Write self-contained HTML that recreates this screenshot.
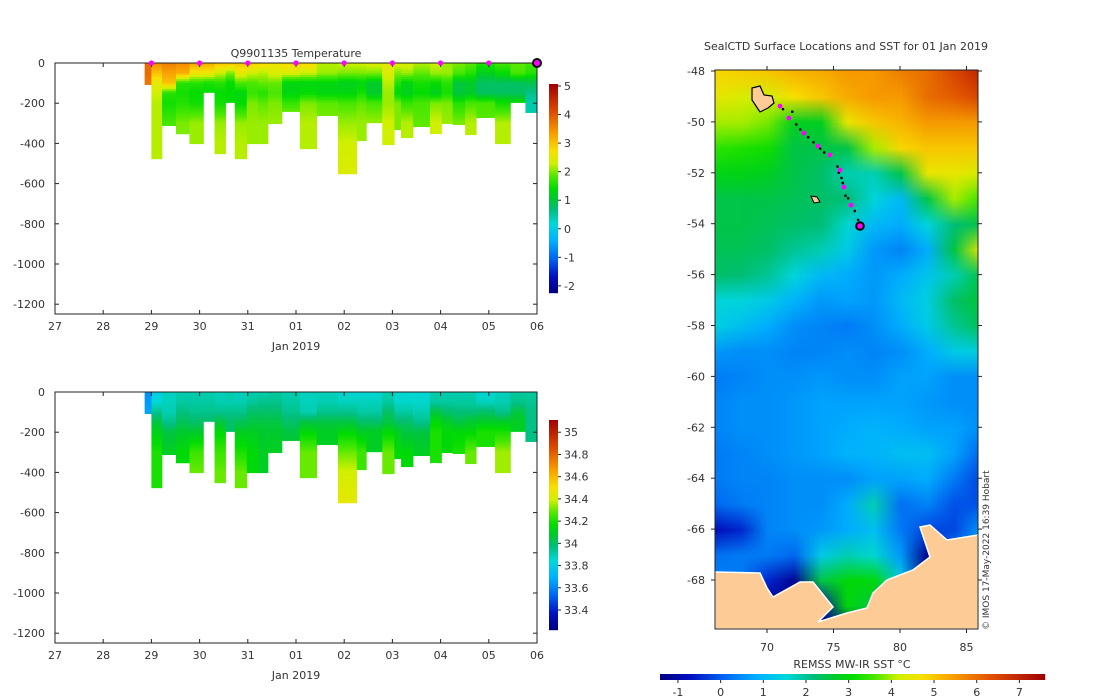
<!DOCTYPE html>
<html><head><meta charset="utf-8"><style>
body{margin:0;background:#fff;}
svg{display:block;font-family:"DejaVu Sans","Liberation Sans",sans-serif;}
text{fill:#333;font-size:11px;}
</style></head><body>
<div style="position:relative;width:1100px;height:700px;">
<canvas id="sst" width="1100" height="700" style="position:absolute;left:0;top:0"></canvas>
<svg id="fig" width="1100" height="700" style="position:absolute;left:0;top:0"></svg>
</div>
<script>
// ---------- data ----------
const profileStart=[1.86,2.00,2.22,2.51,2.79,3.08,3.31,3.54,3.73,3.98,4.21,4.42,4.71,5.08,5.43,5.87,6.26,6.46,6.79,7.04,7.18,7.43,7.78,8.02,8.25,8.51,8.74,9.13,9.45,9.76];
const profileMaxDepth=[108,477,312,353,402,147,452,197,477,402,402,302,242,427,262,552,387,298,407,332,372,317,352,302,307,357,272,402,197,247];
const levels=[0,50,100,150,200,300,400,550];
const tempProfiles=[
[3.8,3.8,3.7,3.7,3.7,3.7,3.7,3.7],[3.5,3.0,2.5,2.3,2.2,2.2,2.2,2.2],[3.6,3.3,3.0,1.6,1.5,1.8,1.8,1.8],
[3.5,3.2,1.6,1.5,1.6,2.0,2,2],[3.3,2.6,1.6,1.4,1.5,2.1,2.1,2.1],[3.2,2.6,1.5,1.4,1.4,1.4,1.4,1.4],
[3.0,2.3,1.6,1.4,1.5,2.1,2.2,2.2],[3.0,2.0,1.4,1.4,1.4,1.4,1.4,1.4],[3.0,2.5,1.8,1.3,1.4,2.1,2.2,2.2],
[2.9,2.3,1.8,1.7,2.0,2.1,2.1,2.1],[2.8,2.2,1.9,1.6,1.9,2.1,2.1,2.1],[2.6,2.4,1.9,1.8,2.0,2.1,2.1,2.1],
[2.8,2.4,1.3,1.3,1.7,2.2,2.2,2.2],[2.8,2.3,1.3,1.4,2.0,2.2,2.2,2.2],[2.2,2.1,1.3,1.3,1.9,2.0,2.0,2.0],
[2.3,2.0,1.2,1.3,1.8,2.1,2.3,2.4],[2.3,2.0,1.3,1.5,1.9,2.1,2.1,2.1],[2.4,2.0,1.1,1.1,1.8,2.1,2.1,2.1],
[2.5,2.4,2.2,2.1,2.1,2.3,2.3,2.3],[2.4,2.0,1.6,1.3,2.0,2.0,2.0,2.0],[2.4,2.1,1.3,1.2,1.7,2.2,2.2,2.2],
[2.2,1.9,1.5,1.4,1.8,1.9,1.9,1.9],[2.3,2.1,1.4,1.2,2.0,2.3,2.3,2.3],[2.1,2.1,1.6,1.5,2.0,2.1,2.1,2.1],
[2.0,1.8,1.0,1.0,1.6,2.0,2.0,2.0],[1.9,1.6,1.1,1.1,1.8,2.2,2.2,2.2],[1.6,1.2,0.8,0.8,1.8,1.9,1.9,1.9],
[1.8,1.4,0.8,0.8,1.5,2.2,2.2,2.2],[1.9,1.8,0.8,0.8,1.4,1.4,1.4,1.4],[1.8,1.6,0.9,0.6,0.4,0.4,0.4,0.4]];
const saltProfiles=[
[33.62,33.64,33.66,33.7,33.7,33.7,33.7,33.7],[33.8,33.85,33.95,34.05,34.12,34.2,34.2,34.2],[33.88,33.88,33.9,33.95,34.05,34.1,34.1,34.1],
[33.9,33.92,33.97,34.02,34.08,34.15,34.15,34.15],[33.9,33.92,33.95,34.0,34.08,34.25,34.3,34.3],[33.9,33.92,33.95,34.0,34.0,34.0,34.0,34.0],
[33.88,33.9,33.95,34.05,34.15,34.25,34.3,34.3],[33.9,33.9,33.95,34.0,34.0,34.0,34.0,34.0],[33.88,33.9,33.95,34.02,34.1,34.2,34.3,34.3],
[33.9,33.93,34.0,34.05,34.1,34.15,34.15,34.15],[33.9,33.95,34.0,34.05,34.08,34.1,34.1,34.1],[33.92,33.95,34.0,34.05,34.08,34.1,34.1,34.1],
[33.9,33.92,33.95,34.0,34.05,34.1,34.1,34.1],[33.88,33.88,33.9,34.05,34.15,34.3,34.3,34.3],[33.88,33.9,33.95,34.05,34.1,34.1,34.1,34.1],
[33.85,33.88,33.95,34.05,34.15,34.3,34.4,34.45],[33.85,33.88,33.92,34.0,34.1,34.25,34.25,34.25],[33.85,33.88,33.92,34.0,34.1,34.1,34.1,34.1],
[33.9,33.92,34.0,34.05,34.15,34.3,34.3,34.3],[33.85,33.86,33.92,34.0,34.1,34.15,34.15,34.15],[33.85,33.86,33.92,34.0,34.05,34.15,34.15,34.15],
[33.85,33.86,33.9,33.95,34.05,34.1,34.1,34.1],[33.9,33.92,34.05,34.15,34.2,34.2,34.2,34.2],[33.9,33.92,34.0,34.1,34.15,34.15,34.15,34.15],
[33.9,33.92,33.98,34.05,34.15,34.2,34.2,34.2],[33.9,33.92,33.98,34.08,34.15,34.3,34.3,34.3],[33.85,33.88,34.0,34.1,34.2,34.2,34.2,34.2],
[33.88,33.9,33.95,34.1,34.2,34.35,34.35,34.35],[33.92,33.95,34.05,34.1,34.1,34.1,34.1,34.1],[33.92,33.94,33.96,33.96,33.96,33.96,33.96,33.96]];
const surfaceDays=[2,3,4,5,6,7,8,9];
const lastSurfaceDay=10;
const dayLabels=["27","28","29","30","31","01","02","03","04","05","06"];
const depthTicks=[0,-200,-400,-600,-800,-1000,-1200];
const tempTicks=[5,4,3,2,1,0,-1,-2];
const saltTicks=[35,34.8,34.6,34.4,34.2,34,33.8,33.6,33.4];
const sstTicks=[-1,0,1,2,3,4,5,6,7];
const latTicks=[-48,-50,-52,-54,-56,-58,-60,-62,-64,-66,-68];
const lonTicks=[70,75,80,85];
const gridLons=[66,68,70,72,74,76,78,80,82,84,86];
const gridLats=[-48,-49,-50,-51,-52,-53,-54,-55,-56,-57,-58,-59,-60,-61,-62,-63,-64,-65,-66,-67,-68,-69,-70];
const sstGrid=[
[4.8,4.9,5,5.2,5.3,5.5,5.5,5.8,6,6.5,7],
[4.5,4.3,4.2,4.7,5,5.3,5.5,5.5,6,6.2,6.5],
[4,4,3.8,2.8,2.8,4.5,5,5.2,5.5,5.5,5.5],
[3.4,3.3,3.2,2.5,2.5,2.5,4,4.8,5,5,5],
[2.9,2.9,2.8,2.5,2.3,1.8,1.8,2.5,4.5,4.5,4.3],
[2.5,2.5,2.5,2.4,2.3,2.2,1.5,1,2.5,4,3.5],
[2.5,2.5,2.4,2.3,2.2,1.6,1,0.8,1.5,2.2,2.5],
[2.4,2.4,2.3,2,1.8,1.3,0.6,0.4,0.8,2.5,4.5],
[2.3,2.2,2,1.5,1,0.8,0.6,0.8,1.2,1.8,2.5],
[1.5,1.5,1.3,0.9,0.6,0.7,0.6,1,1.4,2.3,2.6],
[1.4,1.1,0.8,0.5,0.4,0.3,0.5,0.8,1.3,2,2.4],
[0.6,0.5,0.5,0.4,0.4,0.5,0.4,0.5,0.8,1.3,1.4],
[0.3,0.4,0.5,0.5,0.6,0.5,0.5,0.7,0.7,0.5,0.5],
[0.4,0.5,0.5,0.6,0.7,0.7,0.7,0.7,0.6,0.5,0.5],
[0.4,0.5,0.5,0.6,0.7,0.8,0.9,0.8,0.7,0.7,0.5],
[0.3,0.4,0.5,0.6,0.7,0.9,0.9,1.1,1.1,0.7,0.1],
[0.3,0.4,0.4,0.5,0.5,0.5,0.7,0.7,0.8,0.3,-0.2],
[0.1,0.3,0.4,0.5,0.5,0.8,1.8,0.2,0.4,-0.1,-0.1],
[-0.8,-0.5,0.4,0.5,0.6,0.8,1.1,0.3,-0.2,-0.2,0.6],
[0.2,0.3,0.3,0.1,1.3,1.8,1.6,0.6,-1.3,0.4,0.4],
[0.4,0.3,-0.5,-1.2,2.5,3,3,1.4,-1.3,0,0],
[-1.3,-1.3,-1.3,-1.3,-1,3,2.5,-1.3,-1.3,-1.3,-1.3],
[-1.3,-1.3,-1.3,-1.3,-1.3,-1.3,-1.3,-1.3,-1.3,-1.3,-1.3]];
const trackLon=[70.98,71.65,72.78,73.83,74.74,75.49,75.79,76.32];
const trackLat=[-49.38,-49.85,-50.44,-50.95,-51.30,-51.89,-52.56,-53.27];
const dotLon=[71.2,71.9,72.2,72.5,73.1,73.5,74.0,74.3,75.3,75.4,75.6,75.7,75.9,76.1,76.6,76.85];
const dotLat=[-49.5,-49.6,-50.1,-50.3,-50.6,-50.8,-51.05,-51.2,-51.75,-52.0,-52.2,-52.4,-52.9,-53.0,-53.5,-53.85];
const lastLon=76.99, lastLat=-54.09;

// ---------- helpers ----------
const NS="http://www.w3.org/2000/svg";
const svgRoot=document.getElementById('fig');
function el(tag,attrs,parent,txt){const e=document.createElementNS(NS,tag);for(const k in attrs)e.setAttribute(k,attrs[k]);if(txt!==undefined)e.textContent=txt;(parent||svgRoot).appendChild(e);return e;}
const stops=[[0,[0,0,128]],[.08,[0,16,192]],[.16,[0,96,240]],[.25,[0,176,255]],[.33,[0,216,216]],[.40,[0,190,120]],[.45,[0,200,50]],[.5,[0,220,0]],[.56,[80,232,0]],[.62,[208,240,0]],[.68,[248,224,0]],[.76,[248,160,0]],[.86,[224,80,0]],[1,[160,0,0]]];
function cmap(t){t=Math.max(0,Math.min(1,t));for(let i=1;i<stops.length;i++){if(t<=stops[i][0]){const a=stops[i-1],b=stops[i];const f=(t-a[0])/(b[0]-a[0]);return 'rgb('+a[1].map((v,j)=>Math.round(v+(b[1][j]-v)*f)).join(',')+')';}}return 'rgb(160,0,0)';}
function interp(arr,d){for(let i=1;i<levels.length;i++){if(d<=levels[i]){const f=(d-levels[i-1])/(levels[i]-levels[i-1]);return arr[i-1]+(arr[i]-arr[i-1])*f;}}return arr[arr.length-1];}

function section(cfg){
  const L=55,R=537,T=cfg.top,B=cfg.top+251;
  const xS=d=>L+d*(R-L)/10;
  const yS=m=>T+(-m)*(201/1000);
  const g=el('g',{});
  
  
  for(let p=0;p<profileStart.length;p++){
    const x0=xS(profileStart[p]);const x1=xS(Math.min(10,p+1<profileStart.length?profileStart[p+1]:10.05));
    for(let d=0;d<profileMaxDepth[p];d+=10){
      const d1=Math.min(d+10,profileMaxDepth[p]);
      const v=interp(cfg.data[p],d+5);
      const r=el('rect',{x:x0,y:yS(-d),width:Math.max(0.5,x1-x0+0.3),height:yS(-d1)-yS(-d)+0.3,fill:cmap((v-cfg.vmin)/(cfg.vmax-cfg.vmin))},g);
      
      
    }
  }
  el('rect',{x:L,y:T,width:R-L,height:B-T,fill:'none',stroke:'#222','stroke-width':1});
  depthTicks.forEach(v=>{const y=yS(v);el('line',{x1:L,x2:L+4,y1:y,y2:y,stroke:'#222'});el('line',{x1:R-4,x2:R,y1:y,y2:y,stroke:'#222'});
    const t=el('text',{x:L-10,y:y+4,'text-anchor':'end'},svgRoot,String(v));});
  dayLabels.forEach((lab,i)=>{const x=xS(i);el('line',{x1:x,x2:x,y1:B,y2:B-4,stroke:'#222'});el('line',{x1:x,x2:x,y1:T,y2:T+4,stroke:'#222'});
    const t=el('text',{x:x,y:B+16,'text-anchor':'middle'},svgRoot,lab);});
  const xl=el('text',{x:296,y:B+36,'text-anchor':'middle'},svgRoot,'Jan 2019');
  
  const cb=cfg.cb;const cy=v=>cb.y1-(v-cfg.vmin)/(cfg.vmax-cfg.vmin)*(cb.y1-cb.y0);
  for(let y=cb.y0;y<cb.y1;y++){el('rect',{x:549,y:y,width:9,height:1.2,fill:cmap((cb.y1-y-0.5)/(cb.y1-cb.y0))});}
  cfg.ticks.forEach(v=>{const y=cy(v);el('line',{x1:558,x2:561,y1:y,y2:y,stroke:'#222'});
    const t=el('text',{x:564,y:y+4},svgRoot,String(v));});
  return {xS,yS};
}
const tempSec=section({name:'temperature-section',top:63,data:tempProfiles,vmin:-2.25,vmax:5.07,cb:{y0:84,y1:293},ticks:tempTicks});
const tt=el('text',{x:296,y:57,'text-anchor':'middle'},svgRoot,'Q9901135  Temperature');

surfaceDays.forEach(d=>{const c=el('circle',{cx:tempSec.xS(d),cy:63,r:2.6,fill:'#ff00ff'});});
const lm=el('circle',{cx:tempSec.xS(lastSurfaceDay),cy:63,r:4,fill:'#ff00ff',stroke:'#000','stroke-width':2});

section({name:'salinity-section',top:392,data:saltProfiles,vmin:33.22,vmax:35.11,cb:{y0:420,y1:630},ticks:saltTicks});

// ---------- map ----------
const mL=715,mR=978,mT=70,mB=629;
const lonX=lon=>767+(lon-70)*13.3;
const latY=lat=>71+(-48-lat)*25.45;
const svmin=-1.42,svmax=7.6;
(function(){
  const cv=document.getElementById('sst');const ctx=cv.getContext('2d');
  const sm=document.createElement('canvas');sm.width=gridLons.length;sm.height=gridLats.length;
  const sc=sm.getContext('2d');
  gridLats.forEach((la,j)=>gridLons.forEach((lo,i)=>{sc.fillStyle=cmap((sstGrid[j][i]-svmin)/(svmax-svmin));sc.fillRect(i,j,1,1);}));
  ctx.save();ctx.beginPath();ctx.rect(mL,mT,mR-mL,mB-mT);ctx.clip();
  ctx.imageSmoothingEnabled=true;
  const cw=lonX(gridLons[1])-lonX(gridLons[0]),ch=latY(gridLats[1])-latY(gridLats[0]);
  ctx.drawImage(sm,lonX(gridLons[0])-cw/2,latY(gridLats[0])-ch/2,cw*gridLons.length,ch*gridLats.length);
  ctx.restore();
})();
const land=el('polygon',{points:'715,572 760,573 767,588 773,597 800,582 813,582 833,607 818,622 847,613 867,608 873,593 887,580 913,570 930,557 920,527 930,525 947,540 978,535 978,629 715,629',fill:'#fdcb96',stroke:'#fff','stroke-width':1.5});

const kg=el('polygon',{points:'752,88 760,86 764,95 772,96 774,103 768,108 760,112 756,106 752,100',fill:'#fdcb96',stroke:'#000','stroke-width':1.2});

const hd=el('polygon',{points:'811,196 817,197 820,202 814,203',fill:'#fdcb96',stroke:'#000','stroke-width':1});

dotLon.forEach((lo,i)=>{const c=el('circle',{cx:lonX(lo),cy:latY(dotLat[i]),r:1.3,fill:'#000'});});
trackLon.forEach((lo,i)=>{const c=el('circle',{cx:lonX(lo),cy:latY(trackLat[i]),r:2.4,fill:'#ff00ff'});});
const ll=el('circle',{cx:lonX(lastLon),cy:latY(lastLat),r:3.8,fill:'#ff00ff',stroke:'#000','stroke-width':2});

el('rect',{x:mL,y:mT,width:mR-mL,height:mB-mT,fill:'none',stroke:'#222'});
latTicks.forEach(v=>{const y=latY(v);el('line',{x1:mL-4,x2:mL,y1:y,y2:y,stroke:'#222'});el('line',{x1:mR,x2:mR+4,y1:y,y2:y,stroke:'#222'});
  const t=el('text',{x:mL-10,y:y+4,'text-anchor':'end'},svgRoot,String(v));});
lonTicks.forEach(v=>{const x=lonX(v);el('line',{x1:x,x2:x,y1:mB,y2:mB+4,stroke:'#222'});el('line',{x1:x,x2:x,y1:mT-4,y2:mT,stroke:'#222'});
  const t=el('text',{x:x,y:mB+22,'text-anchor':'middle'},svgRoot,String(v));});
const mt=el('text',{x:846,y:50,'text-anchor':'middle'},svgRoot,'SealCTD Surface Locations and SST for 01 Jan 2019');

const cr=el('text',{x:0,y:0,transform:'translate(989,630) rotate(-90)',style:'font-size:9px'},svgRoot,'© IMOS 17-May-2022 16:39 Hobart');

const sx=v=>660+(v-svmin)/(svmax-svmin)*385;
for(let x=660;x<1045;x++){el('rect',{x:x,y:674,width:1.2,height:6,fill:cmap((x-660+0.5)/385)});}
sstTicks.forEach(v=>{const x=sx(v);el('line',{x1:x,x2:x,y1:680,y2:683,stroke:'#222'});
  const t=el('text',{x:x,y:696,'text-anchor':'middle'},svgRoot,String(v));});
const cl=el('text',{x:852,y:668,'text-anchor':'middle'},svgRoot,'REMSS MW-IR SST °C');

</script>
</body></html>
